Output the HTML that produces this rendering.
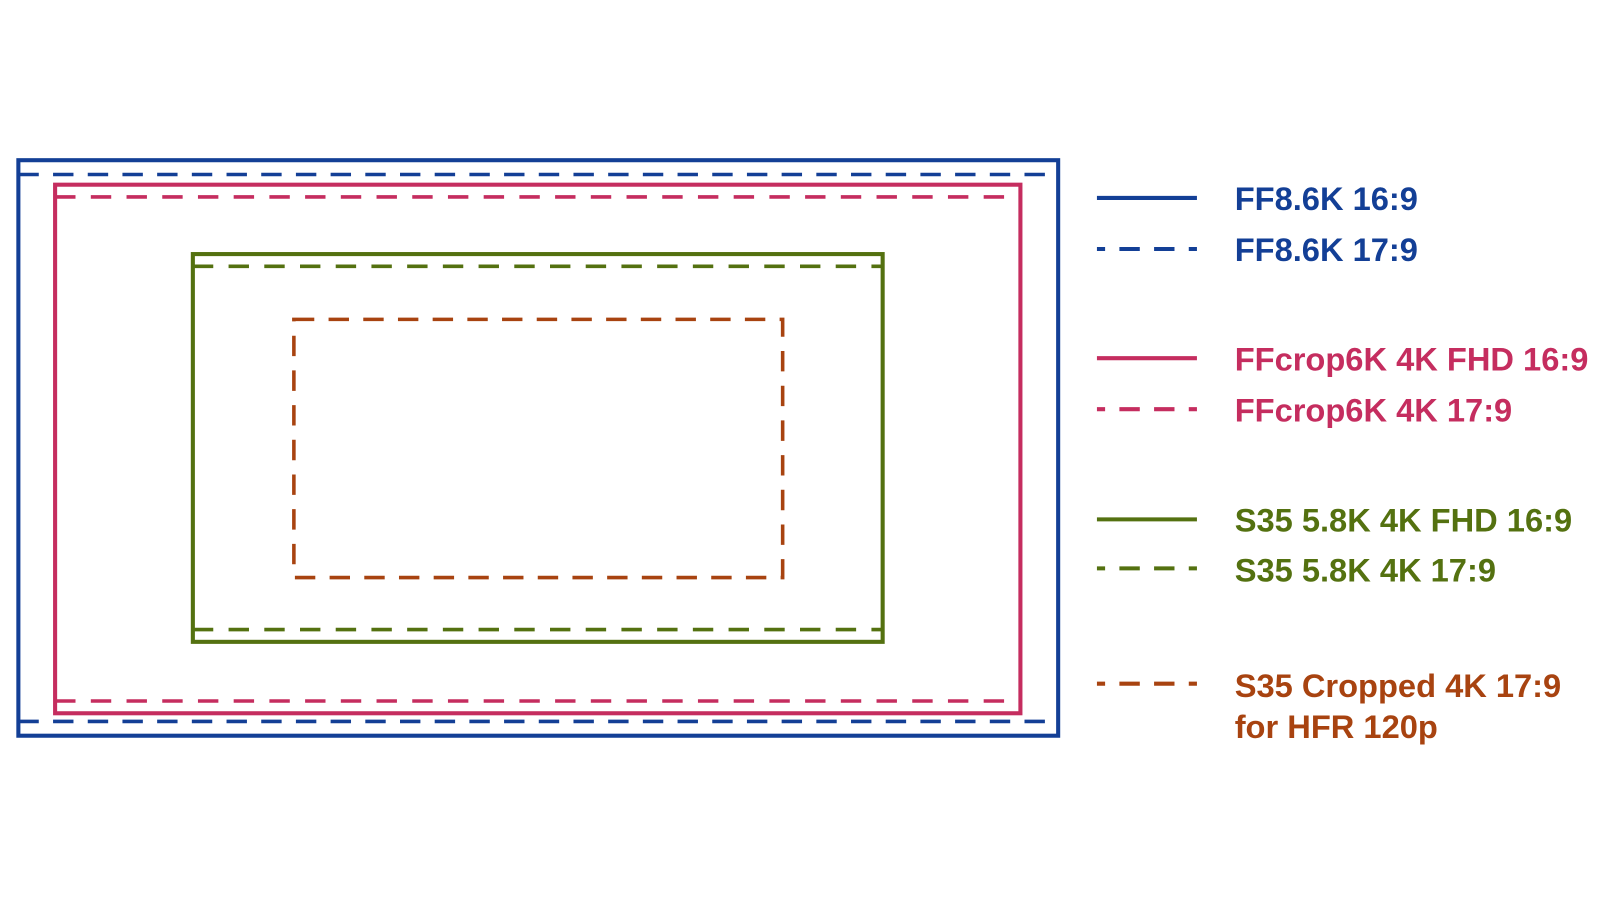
<!DOCTYPE html>
<html><head><style>
body{margin:0;background:#fff;}
svg{display:block}
svg text{font-family:"Liberation Sans",sans-serif;font-size:32px;font-weight:bold;}
</style></head><body>
<svg width="1600" height="900" viewBox="0 0 1568 882" xmlns="http://www.w3.org/2000/svg">
<g fill="none" stroke-width="4">
<rect x="18" y="157" width="1019" height="564" stroke="#133f96"/>
<line x1="18" y1="171" x2="1037" y2="171" stroke="#133f96" stroke-dasharray="20,14" stroke-width="3.5"/>
<line x1="18" y1="707" x2="1037" y2="707" stroke="#133f96" stroke-dasharray="20,14" stroke-width="3.5"/>
<rect x="54" y="181" width="946" height="518" stroke="#c52d5f"/>
<line x1="54" y1="193" x2="1000" y2="193" stroke="#c52d5f" stroke-dasharray="20,15" stroke-width="3.5"/>
<line x1="54" y1="687" x2="1000" y2="687" stroke="#c52d5f" stroke-dasharray="20,15" stroke-width="3.5"/>
<rect x="189" y="249" width="676" height="380" stroke="#547110"/>
<line x1="189" y1="261" x2="865" y2="261" stroke="#547110" stroke-dasharray="20,15" stroke-width="3.5"/>
<line x1="189" y1="617" x2="865" y2="617" stroke="#547110" stroke-dasharray="20,15" stroke-width="3.5"/>
<rect x="288" y="313" width="479" height="253" stroke="#a84310" stroke-dasharray="20,14" stroke-width="3.5"/>
<line x1="1075" y1="194" x2="1173" y2="194" stroke="#133f96"/>
<line x1="1075" y1="244" x2="1173" y2="244" stroke="#133f96" stroke-dasharray="8,14,20,14,20,14,8,100"/>
<line x1="1075" y1="351" x2="1173" y2="351" stroke="#c52d5f"/>
<line x1="1075" y1="401" x2="1173" y2="401" stroke="#c52d5f" stroke-dasharray="8,14,20,14,20,14,8,100"/>
<line x1="1075" y1="509" x2="1173" y2="509" stroke="#547110"/>
<line x1="1075" y1="557" x2="1173" y2="557" stroke="#547110" stroke-dasharray="8,14,20,14,20,14,8,100"/>
<line x1="1075" y1="670" x2="1173" y2="670" stroke="#a84310" stroke-dasharray="8,14,20,14,20,14,8,100"/>
</g>
<text x="1210" y="206" fill="#133f96">FF8.6K 16:9</text>
<text x="1210" y="256" fill="#133f96">FF8.6K 17:9</text>
<text x="1210" y="363" fill="#c52d5f">FFcrop6K 4K FHD 16:9</text>
<text x="1210" y="413" fill="#c52d5f">FFcrop6K 4K 17:9</text>
<text x="1210" y="521" fill="#547110">S35 5.8K 4K FHD 16:9</text>
<text x="1210" y="570" fill="#547110">S35 5.8K 4K 17:9</text>
<text x="1210" y="683" fill="#a84310">S35 Cropped 4K 17:9</text>
<text x="1210" y="723" fill="#a84310">for HFR 120p</text>
</svg>
</body></html>
